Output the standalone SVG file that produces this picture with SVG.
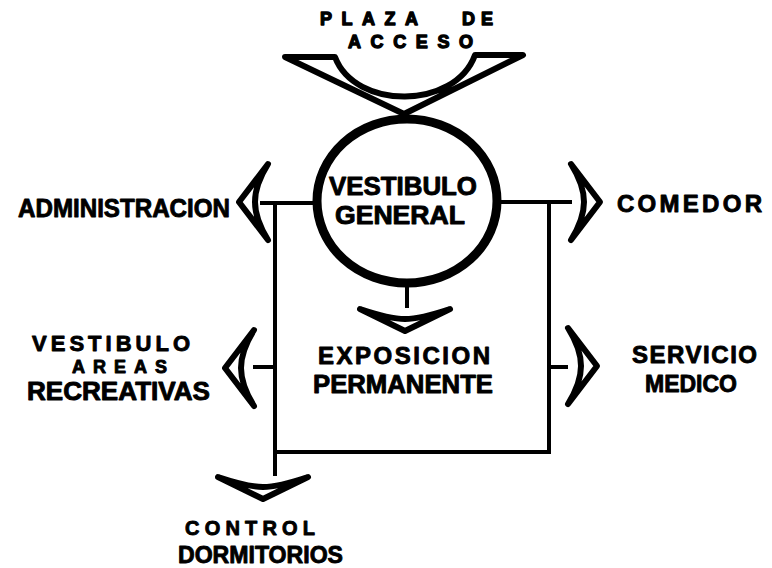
<svg xmlns="http://www.w3.org/2000/svg" width="772" height="568" viewBox="0 0 772 568">
<style>
text{font-family:"Liberation Sans",Arial,sans-serif;font-weight:bold;fill:#000;stroke:#000;stroke-width:0.9;stroke-linejoin:round}
.ln{stroke:#000;stroke-width:4;fill:none;stroke-linecap:square}
.chev{fill:#fff;stroke:#000;stroke-width:6;stroke-linejoin:round}
</style>
<defs>
<path id="chevR" d="M0,-38 L29,0 L0,38 C10,22 13,8 13,0 C13,-8 10,-22 0,-38 Z"/>
<path id="chevD" d="M-45,-11 L0,11 L45,-11 C30,-6 10,-1 0,-1 C-10,-1 -30,-6 -45,-11 Z"/>
</defs>
<rect width="772" height="568" fill="#fff"/>

<g id="connectors">
<line class="ln" x1="262" y1="203" x2="318" y2="203"/>
<line class="ln" x1="498" y1="202" x2="570" y2="202"/>
<line class="ln" x1="275" y1="203" x2="275" y2="474"/>
<line class="ln" x1="549" y1="202" x2="549" y2="452"/>
<line class="ln" x1="275" y1="452" x2="549" y2="452"/>
<line class="ln" x1="255" y1="367" x2="275" y2="367"/>
<line class="ln" x1="549" y1="367" x2="566" y2="367"/>
<line class="ln" x1="407" y1="287" x2="407" y2="306"/>
<use href="#chevR" class="chev" transform="translate(268,202) scale(-1,1)"/>
<use href="#chevR" class="chev" transform="translate(571,202)"/>
<use href="#chevR" class="chev" transform="translate(254,368) scale(-1,1)"/>
<use href="#chevR" class="chev" transform="translate(568,366)"/>
<use href="#chevD" class="chev" transform="translate(405,320)"/>
<use href="#chevD" class="chev" transform="translate(263,488)"/>
<path class="chev" d="M285,57 L404,114 L523,55 L475,55 C455,110 355,110 335,57 Z"/>
</g>

<g id="plaza-acceso">
<text x="320" y="25" font-size="18" textLength="98" lengthAdjust="spacing" style="stroke-width:1.3">PLAZA</text>
<text x="462" y="25" font-size="18" textLength="31" lengthAdjust="spacing" style="stroke-width:1.3">DE</text>
<text x="348" y="48" font-size="18" textLength="125" lengthAdjust="spacing" style="stroke-width:1.3">ACCESO</text>
</g>

<g id="vestibulo-general">
<ellipse cx="407" cy="201" rx="90" ry="82" fill="#fff" stroke="#000" stroke-width="9"/>
<text x="329" y="195" font-size="25" textLength="148" lengthAdjust="spacingAndGlyphs">VESTIBULO</text>
<text x="335" y="224" font-size="25" textLength="130" lengthAdjust="spacingAndGlyphs">GENERAL</text>
</g>

<g id="administracion">
<text x="18" y="217" font-size="26" textLength="212" lengthAdjust="spacingAndGlyphs">ADMINISTRACION</text>
</g>

<g id="comedor">
<text x="617" y="212" font-size="24" textLength="145" lengthAdjust="spacing">COMEDOR</text>
</g>

<g id="vestibulo-areas">
<text x="32" y="351" font-size="22" textLength="158" lengthAdjust="spacing">VESTIBULO</text>
<text x="72" y="373" font-size="18" textLength="95" lengthAdjust="spacing">AREAS</text>
<text x="27" y="400" font-size="25" textLength="183" lengthAdjust="spacingAndGlyphs">RECREATIVAS</text>
</g>

<g id="exposicion">
<text x="318" y="364" font-size="24" textLength="172" lengthAdjust="spacing">EXPOSICION</text>
<text x="313" y="393" font-size="25" textLength="180" lengthAdjust="spacingAndGlyphs">PERMANENTE</text>
</g>

<g id="servicio-medico">
<text x="632" y="363" font-size="24" textLength="125" lengthAdjust="spacing">SERVICIO</text>
<text x="645" y="392" font-size="24" textLength="92" lengthAdjust="spacingAndGlyphs">MEDICO</text>
</g>

<g id="control-dormitorios">
<text x="185" y="535" font-size="20" textLength="130" lengthAdjust="spacing">CONTROL</text>
<text x="178" y="563" font-size="24" textLength="165" lengthAdjust="spacingAndGlyphs">DORMITORIOS</text>
</g>
</svg>
